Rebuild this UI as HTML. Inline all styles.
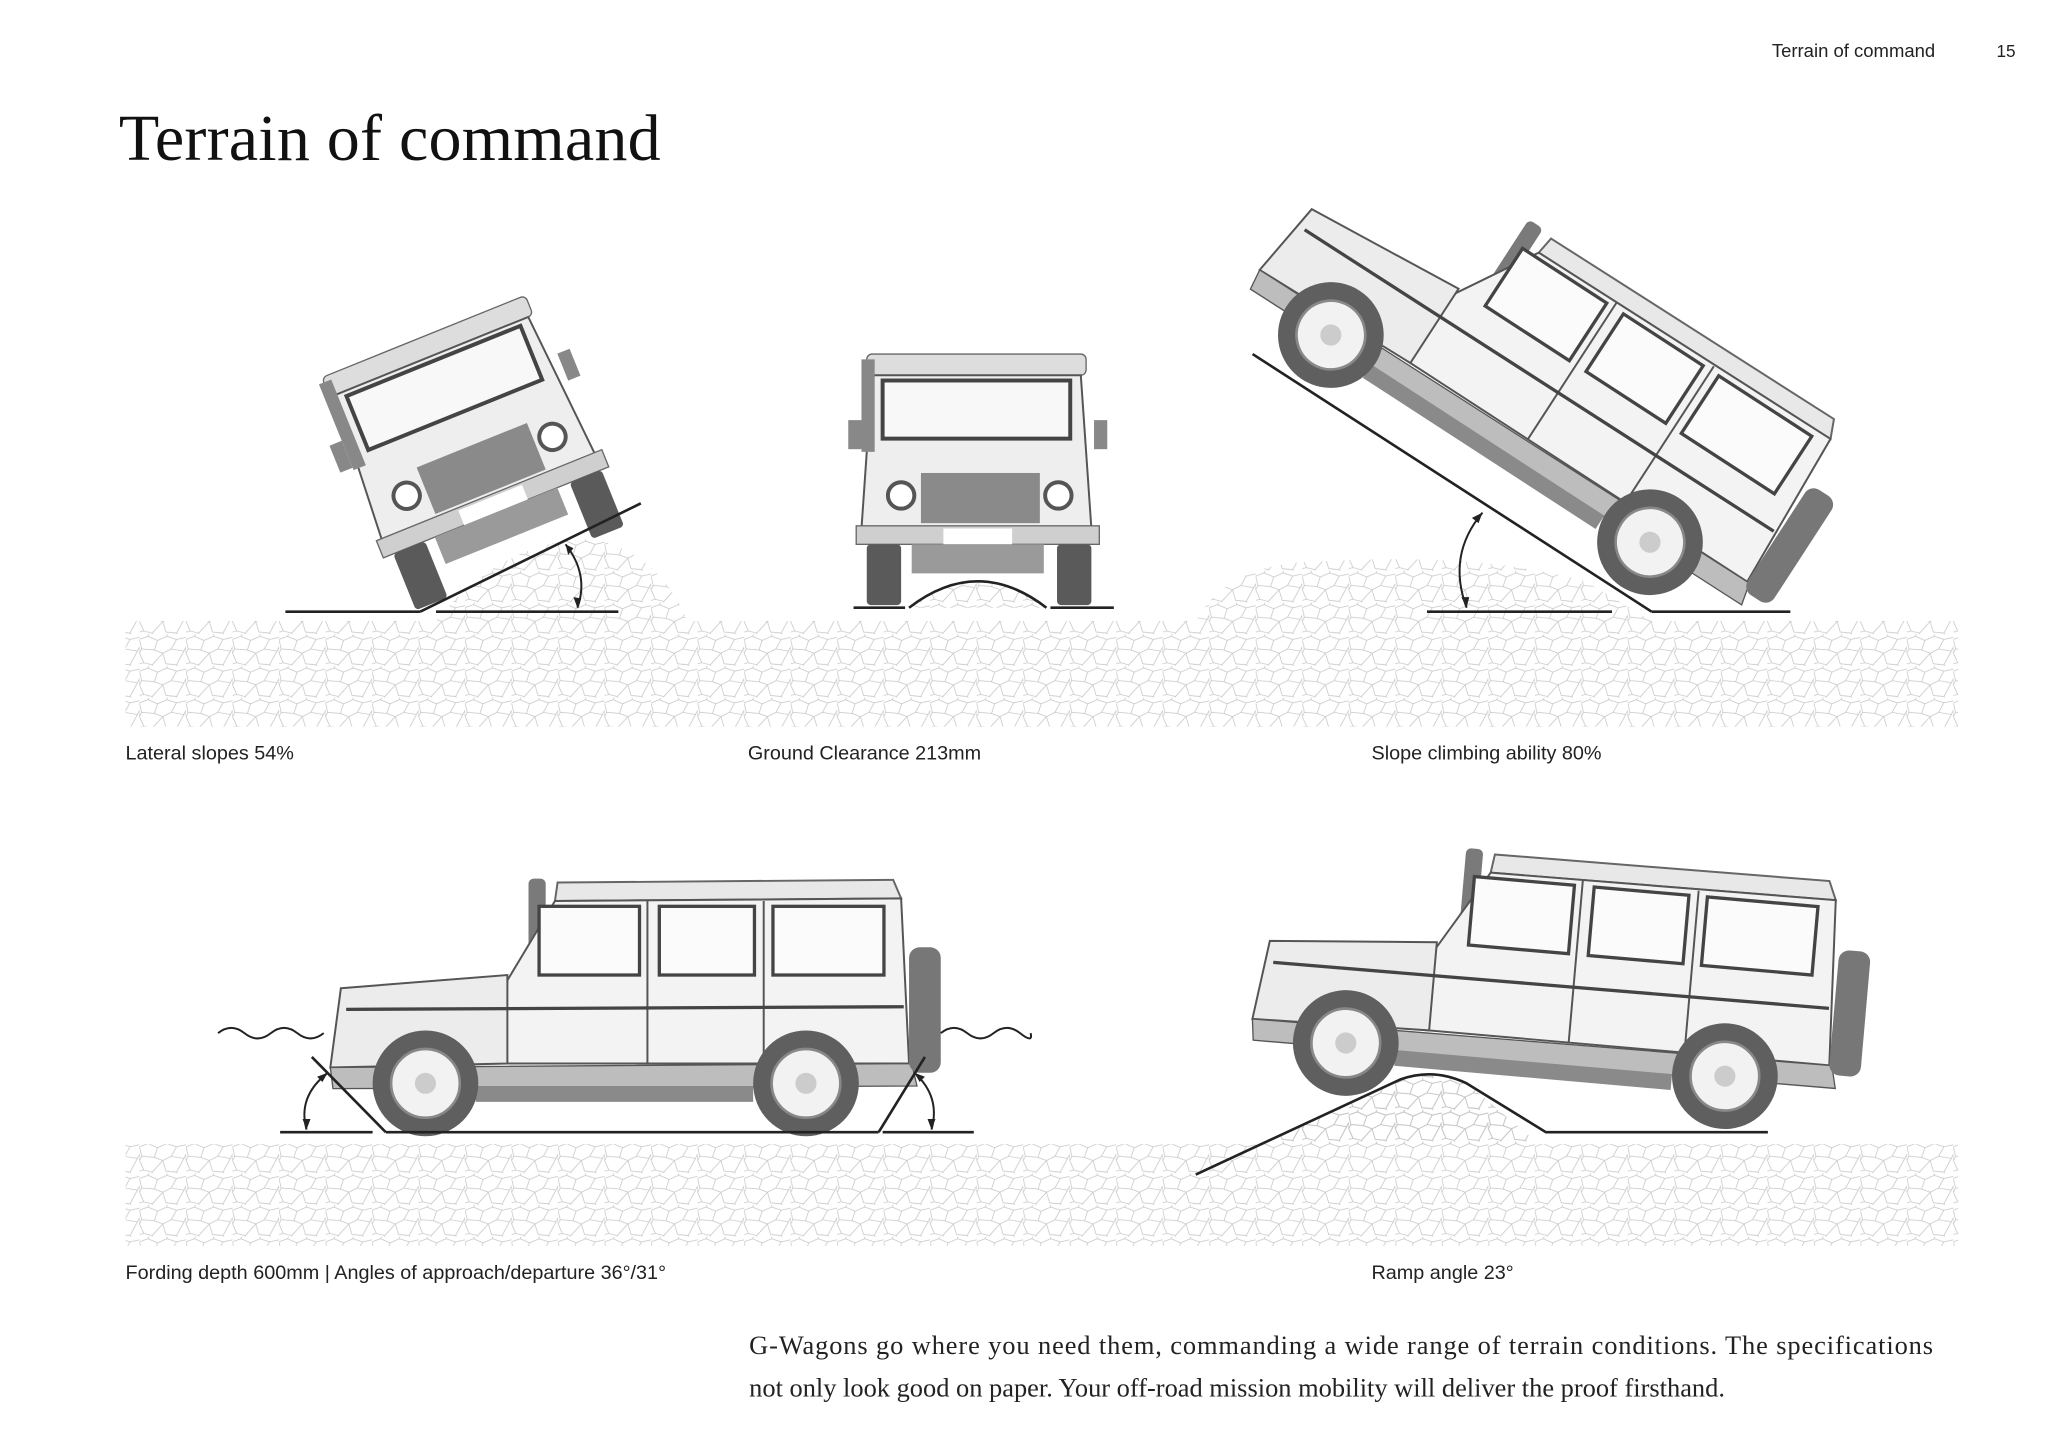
<!DOCTYPE html>
<html><head><meta charset="utf-8"><style>
html,body{margin:0;padding:0;background:#fff;}
svg{display:block;}
</style></head><body>
<svg width="2048" height="1448" viewBox="0 0 1550 1096" preserveAspectRatio="none" xmlns="http://www.w3.org/2000/svg">
<defs>
<pattern id="cob" width="44" height="30" patternUnits="userSpaceOnUse" patternTransform="scale(0.8)">
<path d="M0 5 L8 2 L17 6 L26 2 L35 5 L44 3 M8 2 L9 0 M26 2 L26 0 M0 5 L2 14 L0 18 M17 6 L14 15 L2 14 M14 15 L22 18 L30 14 L35 5 M30 14 L42 16 L44 12 M2 14 L0 18 L4 27 L12 29 L22 18 M12 29 L12 30 M22 18 L25 28 L35 29 L42 16 M35 29 L36 30 M4 27 L0 28 M44 12 L44 18" fill="none" stroke="#c4c4c4" stroke-width="0.7"/>
</pattern>
<g id="side">
<rect x="400" y="665" width="13" height="80" rx="4" fill="#7a7a7a"/>
<path d="M422 668 L676 666 L682 680 L420 682 Z" fill="#e8e8e8" stroke="#666" stroke-width="1.5"/>
<path d="M420 682 L682 680 L688 805 L380 805 L384 742 Z" fill="#f3f3f3" stroke="#555" stroke-width="1.5"/>
<path d="M258 748 L384 738 L384 805 L250 808 Z" fill="#ececec" stroke="#555" stroke-width="1.5"/>
<rect x="408" y="686" width="76" height="52" fill="#fbfbfb" stroke="#444" stroke-width="2.5"/>
<rect x="499" y="686" width="72" height="52" fill="#fbfbfb" stroke="#444" stroke-width="2.5"/>
<rect x="585" y="686" width="84" height="52" fill="#fbfbfb" stroke="#444" stroke-width="2.5"/>
<line x1="490" y1="682" x2="490" y2="805" stroke="#555" stroke-width="1.5"/>
<line x1="578" y1="682" x2="578" y2="805" stroke="#555" stroke-width="1.5"/>
<line x1="262" y1="764" x2="684" y2="762" stroke="#444" stroke-width="2.5"/>
<path d="M250 808 L690 805 L694 822 L252 824 Z" fill="#bdbdbd" stroke="#555"/>
<rect x="688" y="717" width="24" height="95" rx="8" fill="#777"/>
<rect x="360" y="822" width="210" height="12" fill="#8a8a8a"/>
<circle cx="322" cy="820" r="40" fill="#5f5f5f"/>
<circle cx="322" cy="820" r="26" fill="#f2f2f2" stroke="#888" stroke-width="2"/>
<circle cx="322" cy="820" r="8" fill="#ccc"/>
<circle cx="610" cy="820" r="40" fill="#5f5f5f"/>
<circle cx="610" cy="820" r="26" fill="#f2f2f2" stroke="#888" stroke-width="2"/>
<circle cx="610" cy="820" r="8" fill="#ccc"/>
</g>
<g id="front">
<rect x="656" y="268" width="166" height="16" rx="4" fill="#ddd" stroke="#666"/>
<path d="M660 284 L818 284 L826 400 L652 400 Z" fill="#eeeeee" stroke="#555" stroke-width="1.5"/>
<rect x="668" y="288" width="142" height="44" fill="#f8f8f8" stroke="#444" stroke-width="3"/>
<rect x="697" y="358" width="90" height="38" fill="#8a8a8a"/>
<circle cx="682" cy="375" r="10" fill="#fff" stroke="#555" stroke-width="3"/>
<circle cx="801" cy="375" r="10" fill="#fff" stroke="#555" stroke-width="3"/>
<rect x="642" y="318" width="10" height="22" fill="#888"/>
<rect x="828" y="318" width="10" height="22" fill="#888"/>
<rect x="652" y="272" width="10" height="70" fill="#888"/>
<rect x="648" y="398" width="184" height="14" fill="#cfcfcf" stroke="#666"/>
<rect x="714" y="400" width="52" height="12" fill="#fff"/>
<rect x="656" y="412" width="26" height="46" rx="3" fill="#5a5a5a"/>
<rect x="800" y="412" width="26" height="46" rx="3" fill="#5a5a5a"/>
<rect x="690" y="412" width="100" height="22" fill="#9a9a9a"/>
</g>
</defs>

<text x="1341" y="43" font-family="Liberation Sans, sans-serif" font-size="14" fill="#222">Terrain of command</text>
<text x="1511" y="43" font-family="Liberation Sans, sans-serif" font-size="13" fill="#222">15</text>
<text x="90" y="121" font-family="Liberation Serif, serif" font-size="50" fill="#111" textLength="410">Terrain of command</text>

<path d="M95 470 L330 470 Q380 408 450 408 Q500 420 520 470 L905 470 Q930 425 1000 425 Q1120 418 1200 440 L1250 470 L1482 470 L1482 550 L95 550 Z" fill="url(#cob)"/>
<path d="M688 460 Q740 420 792 460 Z" fill="url(#cob)"/>
<path d="M95 866 L905 866 L905 889 L1060 817 Q1085 808 1110 820 L1165 866 L1482 866 L1482 943 L95 943 Z" fill="url(#cob)"/>
<path d="M905 889 L1060 817 Q1085 808 1110 820 L1165 866 L905 866 Z" fill="url(#cob)"/>

<!-- Vehicle 1 -->
<g transform="translate(358 342) rotate(-22) translate(-741 -363)"><use href="#front"/></g>
<line x1="216" y1="463" x2="318" y2="463" stroke="#222" stroke-width="2"/>
<line x1="330" y1="463" x2="468" y2="463" stroke="#222" stroke-width="2"/>
<line x1="318" y1="463" x2="485" y2="381" stroke="#222" stroke-width="2"/>
<path d="M428 412 Q446 435 437 460" fill="none" stroke="#222" stroke-width="1.5"/>
<path d="M428 412 l2 8 l4 -5 Z M437 460 l-3 -8 l6 1 Z" fill="#222"/>

<!-- Vehicle 2 -->
<use href="#front"/>
<line x1="646" y1="460" x2="685" y2="460" stroke="#222" stroke-width="2"/>
<path d="M688 460 Q740 420 792 460" fill="none" stroke="#222" stroke-width="2"/>
<line x1="795" y1="460" x2="843" y2="460" stroke="#222" stroke-width="2"/>

<!-- Vehicle 3 -->
<g transform="translate(1128 332) rotate(33) translate(-466 -820)"><use href="#side"/></g>
<line x1="948" y1="268" x2="1250" y2="463" stroke="#222" stroke-width="2"/>
<line x1="1250" y1="463" x2="1355" y2="463" stroke="#222" stroke-width="2"/>
<line x1="1080" y1="463" x2="1220" y2="463" stroke="#222" stroke-width="2"/>
<path d="M1122 388 Q1095 420 1110 460" fill="none" stroke="#222" stroke-width="1.5"/>
<path d="M1122 388 l-8 4 l5 4 Z M1110 460 l-4 -8 l6 0 Z" fill="#222"/>

<!-- Vehicle 4 -->
<use href="#side"/>
<path d="M165 782 q10 -8 20 0 t20 0 t20 0 t20 0" fill="none" stroke="#222" stroke-width="1.5"/>
<path d="M712 782 q10 -8 20 0 t20 0 t20 0 t8 0" fill="none" stroke="#222" stroke-width="1.5"/>
<line x1="212" y1="857" x2="282" y2="857" stroke="#222" stroke-width="2"/>
<line x1="236" y1="800" x2="292" y2="857" stroke="#222" stroke-width="2"/>
<line x1="292" y1="857" x2="665" y2="857" stroke="#222" stroke-width="2"/>
<line x1="665" y1="857" x2="700" y2="800" stroke="#222" stroke-width="2"/>
<line x1="668" y1="857" x2="737" y2="857" stroke="#222" stroke-width="2"/>
<path d="M248 812 Q225 830 232 855" fill="none" stroke="#222" stroke-width="1.5"/>
<path d="M232 855 l-3 -8 l6 0 Z M248 812 l-8 3 l4 4 Z" fill="#222"/>
<path d="M692 812 Q712 830 705 855" fill="none" stroke="#222" stroke-width="1.5"/>
<path d="M705 855 l-3 -8 l6 0 Z M692 812 l8 3 l-4 4 Z" fill="#222"/>

<!-- Vehicle 5 -->
<g transform="translate(1162 802) rotate(5) translate(-466 -820)"><use href="#side"/></g>
<path d="M905 889 L1060 817 Q1085 808 1110 820 L1170 857 L1338 857" fill="none" stroke="#222" stroke-width="2"/>

<g font-family="Liberation Sans, sans-serif" font-size="15" fill="#222">
<text x="95" y="575">Lateral slopes 54%</text>
<text x="566" y="575">Ground Clearance 213mm</text>
<text x="1038" y="575">Slope climbing ability 80%</text>
<text x="95" y="968">Fording depth 600mm | Angles of approach/departure 36°/31°</text>
<text x="1038" y="968">Ramp angle 23°</text>
</g>
<g font-family="Liberation Serif, serif" font-size="20" fill="#222">
<text x="567" y="1025" textLength="896">G-Wagons go where you need them, commanding a wide range of terrain conditions. The specifications</text>
<text x="567" y="1057">not only look good on paper. Your off-road mission mobility will deliver the proof firsthand.</text>
</g>
</svg>
</body></html>
